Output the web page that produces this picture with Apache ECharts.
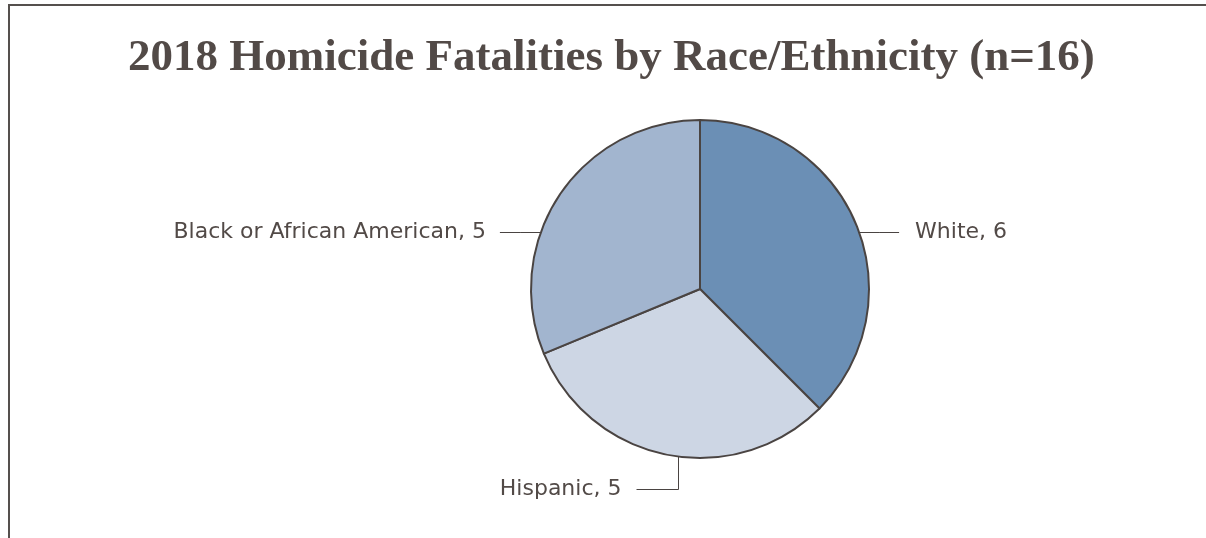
<!DOCTYPE html>
<html>
<head>
<meta charset="utf-8">
<script src="https://cdn.jsdelivr.net/npm/echarts@6/dist/echarts.min.js"></script>
<style>
html,body{margin:0;padding:0;background:#fff;}
#chart{width:1206px;height:538px;}
</style>
</head>
<body>
<div id="chart"></div>
<script>
const titleText = '2018 Homicide Fatalities by Race/Ethnicity (n=16)';
const categories = ['White', 'Hispanic', 'Black or African American'];
const values = [6, 5, 5];
const colors = ['#6b8fb5', '#cdd6e4', '#a2b5cf'];

const CX = 700, CY = 289, R = 169;
const textColor = '#524a47';

const chart = echarts.init(document.getElementById('chart'), null, {renderer: 'canvas'});

function layoutLabel(params) {
  const i = params.dataIndex;
  if (i === 0) {
    const y = CY - 56.5;
    const x0 = CX + Math.sqrt(R * R - 57 * 57);
    return {x: x0 + 56, y: y, align: 'left', verticalAlign: 'middle',
      labelLinePoints: [[x0, y], [x0 + 20, y], [x0 + 40, y]]};
  } else if (i === 2) {
    const y = CY - 56.5;
    const x0 = CX - Math.sqrt(R * R - 57 * 57);
    return {x: x0 - 55, y: y, align: 'right', verticalAlign: 'middle',
      labelLinePoints: [[x0, y], [x0 - 20, y], [x0 - 41, y]]};
  } else {
    const xb = CX - 21.5;
    const yb = CY + Math.sqrt(R * R - 22 * 22);
    const y = CY + R + 31.5;
    return {x: xb - 57, y: y, align: 'right', verticalAlign: 'middle',
      labelLinePoints: [[xb, yb], [xb, y], [xb - 42, y]]};
  }
}

chart.setOption({
  backgroundColor: '#ffffff',
  animation: false,
  title: {
    text: titleText,
    left: 123,
    top: 31,
    textStyle: {
      fontFamily: '"Liberation Serif", "Times New Roman", serif',
      fontWeight: 'bold',
      fontSize: 45,
      color: textColor
    }
  },
  graphic: [{
    type: 'rect',
    shape: {x: 9, y: 5, width: 1300, height: 700},
    style: {fill: 'none', stroke: '#55504d', lineWidth: 2},
    silent: true
  }],
  series: [{
    type: 'pie',
    center: [CX, CY],
    radius: R,
    startAngle: 90,
    clockwise: true,
    data: categories.map((c, i) => ({name: c, value: values[i], itemStyle: {color: colors[i]}})),
    itemStyle: {borderColor: '#4a4442', borderWidth: 2},
    label: {
      show: true,
      formatter: '{b}, {c}',
      fontFamily: '"DejaVu Sans", sans-serif',
      fontSize: 22,
      color: textColor
    },
    labelLine: {show: true, lineStyle: {color: '#4a4442', width: 1}},
    labelLayout: layoutLabel,
    emphasis: {disabled: true}
  }]
});
</script>
</body>
</html>
